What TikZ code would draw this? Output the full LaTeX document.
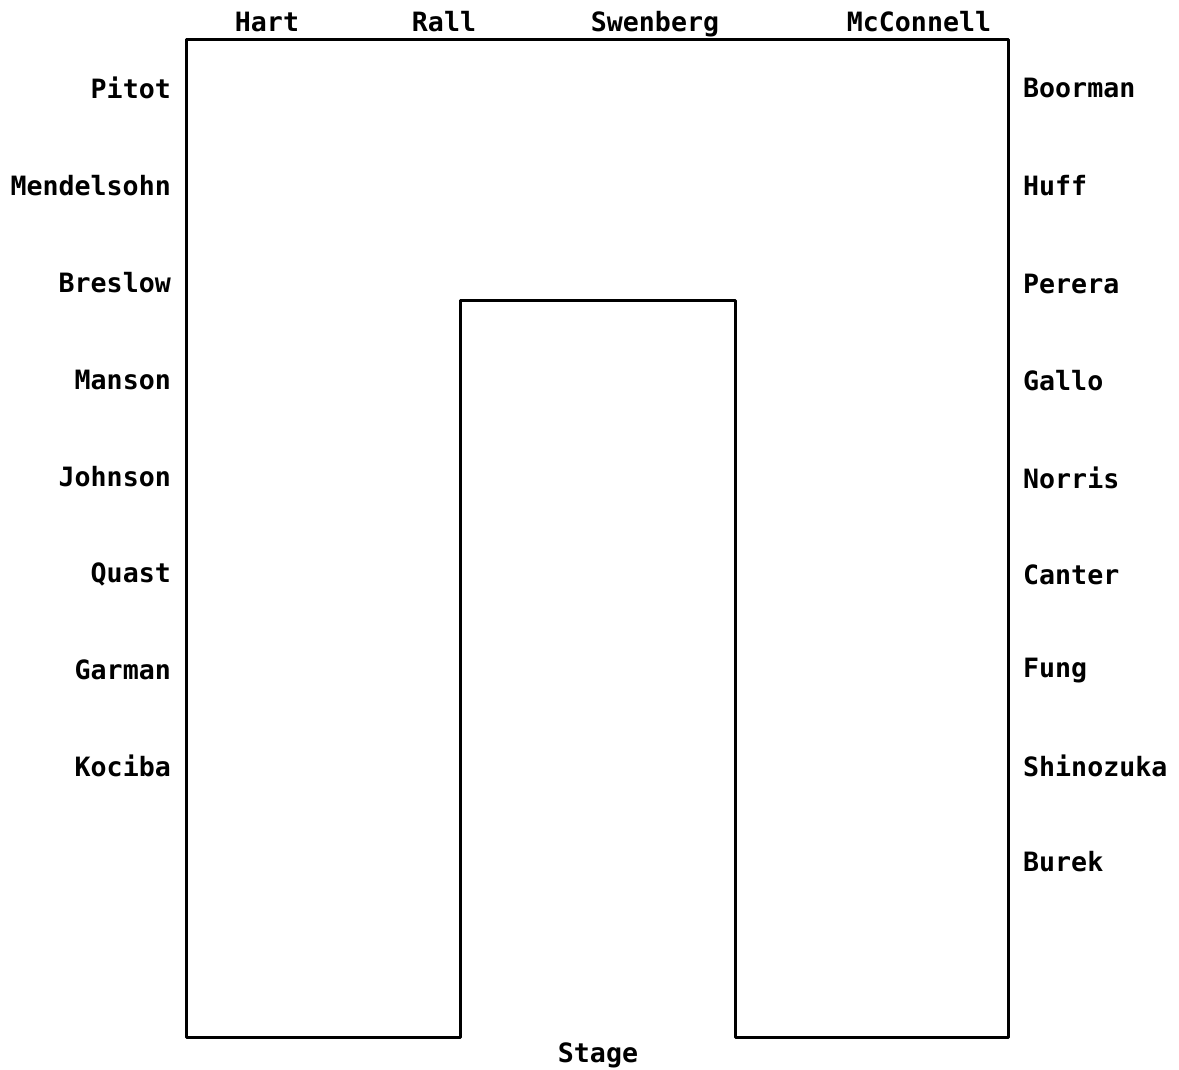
\documentclass[tikz,border=0pt]{standalone}
\usepackage{fontspec}
\setmonofont{DejaVu Sans Mono}
\tikzset{
  seatname/.style={font=\fontsize{26.6}{28}\selectfont\ttfamily\bfseries,inner sep=0pt},
  westname/.style={seatname,anchor=east},
  eastname/.style={seatname,anchor=west},
  topname/.style={seatname,anchor=base},
}
\begin{document}
\begin{tikzpicture}[x=1pt,y=-1pt,line cap=round,line join=round]
  \useasboundingbox (0,0) rectangle (1179,1070);

  % the table, open towards the stage
  \draw[line width=3pt] (186,40) -- (1008,40) -- (1008,1037) -- (735,1037)
    -- (735,300) -- (460,300) -- (460,1037) -- (186,1037) -- cycle;

  % top row
  \node[topname] (hart) at (267,32) {Hart};
  \node[topname] (rall) at (444,32) {Rall};
  \node[topname] (swenberg) at (655,32) {Swenberg};
  \node[topname] (mcconnell) at (919,32) {McConnell};

  % west side
  \node[westname] (pitot) at (171,88) {Pitot};
  \node[westname] (mendelsohn) at (171,186) {Mendelsohn};
  \node[westname] (breslow) at (171,283) {Breslow};
  \node[westname] (manson) at (171,380) {Manson};
  \node[westname] (johnson) at (171,477) {Johnson};
  \node[westname] (quast) at (171,574) {Quast};
  \node[westname] (garman) at (171,670) {Garman};
  \node[westname] (kociba) at (171,766) {Kociba};

  % east side
  \node[eastname] (boorman) at (1023,88) {Boorman};
  \node[eastname] (huff) at (1023,186) {Huff};
  \node[eastname] (perera) at (1023,284) {Perera};
  \node[eastname] (gallo) at (1023,381) {Gallo};
  \node[eastname] (norris) at (1023,478) {Norris};
  \node[eastname] (canter) at (1023,575) {Canter};
  \node[eastname] (fung) at (1023,671) {Fung};
  \node[eastname] (shinozuka) at (1023,766) {Shinozuka};
  \node[eastname] (burek) at (1023,862) {Burek};

  \node[seatname] (stage) at (598,1055) {Stage};
\end{tikzpicture}
\end{document}
